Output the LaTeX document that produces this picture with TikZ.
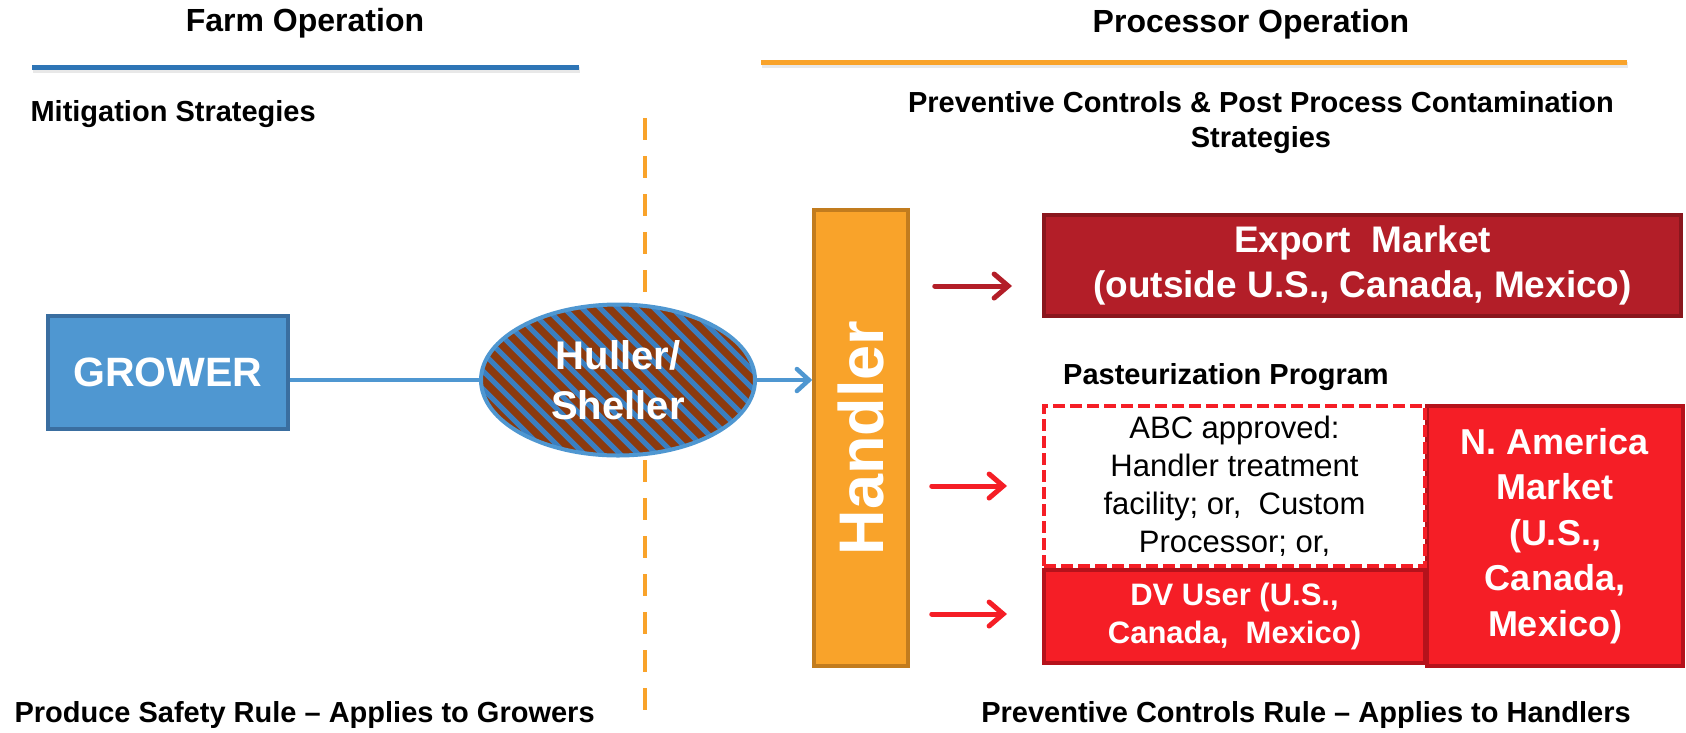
\documentclass[tikz,border=0pt]{standalone}
\usepackage{fontspec}
\setmainfont{Liberation Sans}
\usepackage{xcolor}
\usetikzlibrary{arrows.meta, positioning, shapes.geometric}

\definecolor{growerblue}{RGB}{79,151,209}
\definecolor{growerline}{RGB}{58,110,160}
\definecolor{farmblue}{RGB}{46,117,182}
\definecolor{procorange}{RGB}{249,163,42}
\definecolor{handlerline}{RGB}{194,124,30}
\definecolor{exportred}{RGB}{179,30,40}
\definecolor{exportline}{RGB}{138,22,29}
\definecolor{marketred}{RGB}{245,30,38}
\definecolor{marketline}{RGB}{181,18,27}
\definecolor{hullbrown}{RGB}{139,58,14}
\definecolor{stripeblue}{RGB}{58,127,192}

\begin{document}
\begin{tikzpicture}[
    x=1pt, y=-1pt,
    optitle/.style={font=\fontsize{32}{38}\selectfont\bfseries, anchor=base},
    subhead/.style={font=\fontsize{29}{35}\selectfont\bfseries, align=center},
    whitebox/.style={rectangle, line width=4pt, inner sep=0pt, align=center, text=white},
    growerbox/.style={whitebox, draw=growerline, fill=growerblue, font=\fontsize{41}{48}\selectfont\bfseries},
    handlerbox/.style={whitebox, line width=3.5pt, draw=handlerline, fill=procorange, font=\fontsize{63}{70}\selectfont\bfseries},
    exportbox/.style={whitebox, draw=exportline, fill=exportred, font=\fontsize{37}{45}\selectfont\bfseries},
    marketbox/.style={whitebox, draw=marketline, fill=marketred},
    pasteurbox/.style={rectangle, draw=marketred, fill=white, line width=4pt, dash pattern=on 12pt off 5pt, inner sep=0pt, align=center, font=\fontsize{31}{38}\selectfont},
    headline/.style={line width=5pt, preaction={draw=black!9, line width=6pt, transform canvas={shift={(1pt,-3pt)}}}},
    link/.style={growerblue, line width=4.5pt},
    push/.style={line width=5pt, line cap=round, -{Straight Barb[length=14pt, width=24pt, line cap=round]}},
]
    \useasboundingbox (0,0) rectangle (1686,732);

    % Column headings
    \node[optitle] (farmtitle) at (305,31) {Farm Operation};
    \node[optitle] (proctitle) at (1251,32) {Processor Operation};
    \draw[headline, farmblue] (32,67) -- (579,67);
    \draw[headline, procorange] (761,62) -- (1627,62);
    \node[subhead, anchor=base west] (mitig) at (27,121) {Mitigation Strategies};
    \node[subhead] (prevctl) at (1261,123) {Preventive Controls \& Post Process Contamination\\Strategies};

    % Farm / processor divide
    \draw[procorange, line width=4.5pt, dash pattern=on 22pt off 16pt] (645,118) -- (645,721);

    % Farm side
    \node[growerbox, minimum width=240pt, minimum height=113pt] (grower) at (168,372.5) {GROWER};
    \fill[hullbrown] (618,380) ellipse [x radius=137, y radius=75.5];
    \begin{scope}
        \clip (618,380) ellipse [x radius=137, y radius=75.5];
        \foreach \sx in {384,402,...,870}
            \draw[stripeblue, line width=5pt] (\sx-100,280) -- (\sx+100,480);
    \end{scope}
    \node[ellipse, draw=growerblue, line width=4pt, minimum width=274pt, minimum height=151pt, inner sep=0pt,
          text=white, align=center, font=\fontsize{40}{50}\selectfont\bfseries] (huller) at (618,380) {Huller/\\Sheller};

    % Processor side
    \node[handlerbox, minimum width=94pt, minimum height=456pt] (handler) at (861,438) {\rotatebox{90}{Handler}};
    \node[exportbox, minimum width=637pt, minimum height=101pt] (export) at (1362.5,265.5) {Export~ Market\\(outside U.S., Canada, Mexico)};
    \node[subhead, anchor=base] (pasteurtitle) at (1226,384) {Pasteurization Program};
    \node[marketbox, font=\fontsize{36}{45.5}\selectfont\bfseries, minimum width=256pt, minimum height=260pt] (namerica) at (1555,536) {N. America\\Market\\(U.S.,\\Canada,\\Mexico)};
    \node[pasteurbox, minimum width=381pt, minimum height=160pt] (abc) at (1234.5,486) {ABC approved:\\Handler treatment\\facility; or,~ Custom\\Processor; or,};
    \node[marketbox, font=\fontsize{31}{38}\selectfont\bfseries, minimum width=381pt, minimum height=93pt, below=0pt of abc] (dvuser) {DV User (U.S.,\\Canada,~ Mexico)};

    % Rule labels
    \node[subhead, anchor=base west] (psrule) at (11,722) {Produce Safety Rule – Applies to Growers};
    \node[subhead, anchor=base] (pcrule) at (1306,722) {Preventive Controls Rule – Applies to Handlers};

    % Connect everything
    \coordinate (tipexport) at (1012,286);
    \coordinate (tipabc) at (1007,486);
    \coordinate (tipdv) at (1007,614);
    \draw[link] (grower.east |- huller.west) -- (huller.west);
    \draw[link, -{Straight Barb[length=12pt, width=22pt, line cap=round]}] (huller.east) -- (handler.west |- huller.east);
    \draw[push, exportred, shorten <=25pt] (handler.east |- tipexport) -- (tipexport);
    \draw[push, marketred, shorten <=22pt] (handler.east |- tipabc) -- (tipabc);
    \draw[push, marketred, shorten <=22pt] (handler.east |- tipdv) -- (tipdv);
\end{tikzpicture}
\end{document}
